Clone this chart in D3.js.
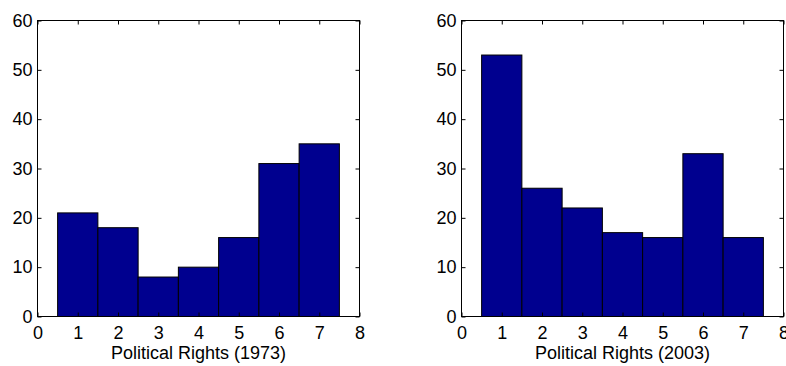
<!DOCTYPE html>
<html><head><meta charset="utf-8">
<script src="https://cdn.jsdelivr.net/npm/d3@7"></script>
<style>body{margin:0;background:#fff}svg{display:block}text{font-family:"Liberation Sans",Arial,sans-serif}</style>
</head><body>
<svg id="c" width="786" height="366"></svg>
<script>
const categories = [1,2,3,4,5,6,7];
const values1973 = [21,18,8,10,16,31,35];
const values2003 = [53,26,22,17,16,33,16];
const xTicks = [0,1,2,3,4,5,6,7,8];
const yTicks = [0,10,20,30,40,50,60];
const titles = ["Political Rights (1973)","Political Rights (2003)"];

const svg = d3.select("#c");
const panels = [
  {x0:37.5, x1:359.5, vals:values1973, label:titles[0]},
  {x0:461.5, x1:783.5, vals:values2003, label:titles[1]}
];
const yTop = 20.5, yBot = 316.5;
const FS = 18;
panels.forEach(p=>{
  const x = d3.scaleLinear().domain([0,8]).range([p.x0,p.x1]);
  const y = d3.scaleLinear().domain([0,60]).range([yBot,yTop]);
  const g = svg.append("g");
  g.selectAll("rect.bar").data(categories).enter().append("rect")
    .attr("x", d=>x(d-0.5)).attr("width", d=>x(d+0.5)-x(d-0.5))
    .attr("y", (d,i)=>y(p.vals[i])).attr("height",(d,i)=>y(0)-y(p.vals[i]))
    .attr("fill","#00008f").attr("stroke","#000").attr("stroke-width",1);
  g.append("rect").attr("x",p.x0).attr("y",yTop).attr("width",p.x1-p.x0).attr("height",yBot-yTop)
    .attr("fill","none").attr("stroke","#000").attr("stroke-width",1);
  const fmt = d3.format("d");
  const ax = (gen, tr)=> g.append("g").attr("transform",tr).call(gen).call(s=>s.select(".domain").remove());
  ax(d3.axisBottom(x).tickValues(xTicks).tickFormat(fmt).tickSizeInner(-4).tickPadding(10),`translate(0,${yBot})`);
  ax(d3.axisTop(x).tickValues(xTicks).tickFormat("").tickSizeInner(-4),`translate(0,${yTop})`);
  ax(d3.axisLeft(y).tickValues(yTicks).tickFormat(fmt).tickSizeInner(-4).tickPadding(5),`translate(${p.x0},0)`);
  ax(d3.axisRight(y).tickValues(yTicks).tickFormat("").tickSizeInner(-4),`translate(${p.x1},0)`);
  g.selectAll(".tick text").attr("font-size",FS).attr("fill","#000").attr("font-family","Liberation Sans, Arial, sans-serif");
  g.selectAll(".tick line").attr("stroke","#000");
  g.append("text").attr("x",(p.x0+p.x1)/2).attr("y",359).attr("text-anchor","middle")
    .attr("font-size",FS).attr("fill","#000").text(p.label);
});
</script>
</body></html>
